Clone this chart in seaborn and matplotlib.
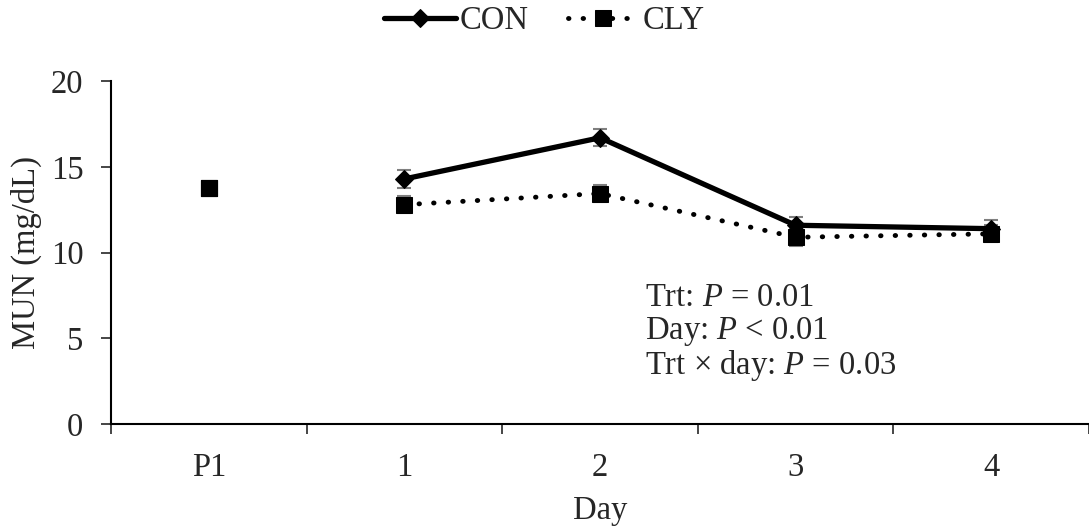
import matplotlib
matplotlib.use("Agg")
import matplotlib.pyplot as plt
import seaborn as sns
import pandas as pd
import numpy as np

categories = ["P1", "1", "2", "3", "4"]
con_days = ["1", "2", "3", "4"]
con_vals = [14.3, 16.7, 11.6, 11.4]
con_err = [0.5, 0.5, 0.5, 0.5]
cly_days = ["1", "2", "3", "4"]
cly_vals = [12.8, 13.45, 10.9, 11.1]
cly_err = [0.5, 0.5, 0.5, 0.5]
p1_val = [13.8]

sns.set_style("white")
plt.rcParams['font.family'] = ['Liberation Serif', 'DejaVu Serif']
plt.rcParams['mathtext.fontset'] = 'custom'
plt.rcParams['mathtext.it'] = 'Liberation Serif:italic'
plt.rcParams['mathtext.rm'] = 'Liberation Serif'

fs = 23.5
fig = plt.figure(figsize=(10.89, 5.27), dpi=100)
ax = fig.add_axes([0.102, 0.195, 0.898, 0.651])

pos = {c: i for i, c in enumerate(categories)}
df_con = pd.DataFrame({"x": [pos[d] for d in con_days], "y": con_vals})
df_cly = pd.DataFrame({"x": [pos[d] for d in cly_days], "y": cly_vals})
df_p1 = pd.DataFrame({"x": [pos["P1"]], "y": p1_val})

ax.errorbar(df_con["x"], df_con["y"], yerr=con_err, fmt="none", ecolor="#7f7f7f",
            elinewidth=1.5, capsize=5, capthick=1.5, zorder=1)
ax.errorbar(df_cly["x"], df_cly["y"], yerr=cly_err, fmt="none", ecolor="#7f7f7f",
            elinewidth=1.5, capsize=5, capthick=1.5, zorder=1)

sns.lineplot(data=df_con, x="x", y="y", ax=ax, color="black", linewidth=3.8,
             marker="D", markersize=9, markeredgecolor="black", label="CON", zorder=3)
sns.lineplot(data=df_cly, x="x", y="y", ax=ax, color="black", linewidth=3.5,
             linestyle=(0, (0.1, 2.9)),
             marker="s", markersize=11, markeredgecolor="black", label="CLY", zorder=2)
ax.lines[-1].set_dash_capstyle("round")
sns.scatterplot(data=df_p1, x="x", y="y", ax=ax, color="black", marker="s", s=120,
                edgecolor="black", zorder=3, legend=False)

ax.set_xlim(-0.5, 4.45)
ax.set_ylim(0, 20)
ax.set_yticks([0, 5, 10, 15, 20])
ax.set_xticks(range(len(categories)))
ax.set_xticklabels(categories)
ax.set_xticks(np.arange(-0.5, 4.6, 1), minor=True)
ax.tick_params(axis="x", which="major", length=0, labelsize=fs, pad=20)
ax.tick_params(axis="x", which="minor", length=7, width=1.2, direction="out", bottom=True)
ax.tick_params(axis="y", length=7, width=1.2, direction="out", left=True, labelsize=fs, pad=13)
for s in ["top", "right"]:
    ax.spines[s].set_visible(False)
for s in ["left", "bottom"]:
    ax.spines[s].set_linewidth(1.5)
    ax.spines[s].set_color("black")
ax.set_xlabel("Day", fontsize=fs, labelpad=9)
ax.set_ylabel("MUN (mg/dL)", fontsize=fs, labelpad=6)

ax.text(2.23, 7.4, "Trt: $P$ = 0.01", fontsize=fs, va="center", ha="left")
ax.text(2.23, 5.4, "Day: $P$ < 0.01", fontsize=fs, va="center", ha="left")
ax.text(2.23, 3.4, "Trt \u00d7 day: $P$ = 0.03", fontsize=fs, va="center", ha="left")

ax.get_legend().remove()
handles, labels = ax.get_legend_handles_labels()
fig.legend(handles, labels, loc="upper center", bbox_to_anchor=(0.5, 1.045), ncol=2,
           frameon=False, fontsize=fs, handlelength=2.2, columnspacing=1.2, handletextpad=0.1)

fig.savefig("out.png", dpi=100)
